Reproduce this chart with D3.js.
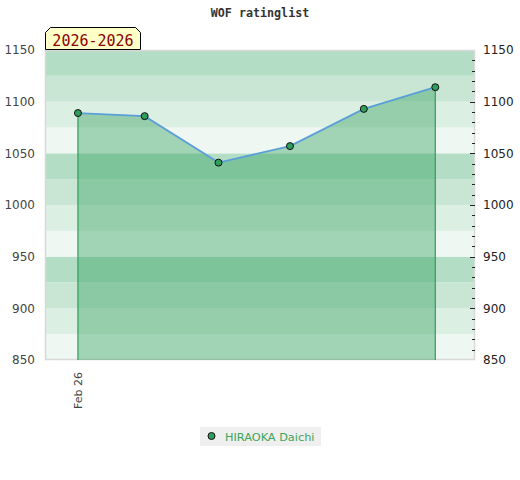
<!DOCTYPE html>
<html><head><meta charset="utf-8">
<script src="https://cdn.jsdelivr.net/npm/d3@7"></script>
<style>body{margin:0;background:#fff}svg{display:block}</style>
</head><body><div id="chart"></div>
<script>
const title = "WOF ratinglist";
const badge = "2026-2026";
const seriesName = "HIRAOKA Daichi";
const dates = ["2026-02-01","2026-03-01","2026-04-01","2026-05-01","2026-06-01","2026-07-01"];
const ratings = [1089, 1086, 1041, 1057, 1093, 1114];
const yTicks = [850, 900, 950, 1000, 1050, 1100, 1150];
const xTickLabels = ["Feb 26"];
const bandColors = ["#b3dec5", "#c9e6d5", "#dcefe3", "#eff7f2"];

const W = 520, H = 480;
const m = {l:45, r:45, t:50, b:120};
const parse = d3.timeParse("%Y-%m-%d");
const data = dates.map((d,i)=>({date:parse(d), v:ratings[i]}));

const svg = d3.select("#chart").append("svg").attr("width",W).attr("height",H);

const x = d3.scaleTime()
  .domain([new Date(2026,0,18,4), new Date(2026,6,17,16)])
  .range([m.l, W-m.r]);
const y = d3.scaleLinear().domain([850,1150]).range([H-m.b, m.t]);

const bands = d3.range(850, 1150, 25);
svg.append("g").selectAll("rect").data(bands).join("rect")
  .attr("x", m.l).attr("width", W-m.r-m.l)
  .attr("y", d=>y(d+25)).attr("height", d=>y(d)-y(d+25))
  .attr("fill", d=>bandColors[3 - ((d-850)/25)%4]);

svg.append("rect").attr("x", m.l+0.5).attr("y", m.t+0.5)
  .attr("width", W-m.r-m.l-1).attr("height", H-m.b-m.t-1)
  .attr("fill","none").attr("stroke","#d8d8d8").attr("stroke-width",1.5);

const area = d3.area().x(d=>x(d.date)).y0(y(850)).y1(d=>y(d.v));
svg.append("path").datum(data).attr("d", area)
  .attr("fill","rgba(46,158,91,0.4)");
svg.append("g").selectAll("line").data([data[0], data[data.length-1]]).join("line")
  .attr("x1", d=>x(d.date)).attr("x2", d=>x(d.date))
  .attr("y1", d=>y(d.v)).attr("y2", y(850))
  .attr("stroke","#2e9e5b").attr("stroke-width",1.2);
svg.append("path").datum(data)
  .attr("d", d3.line().x(d=>x(d.date)).y(d=>y(d.v)))
  .attr("fill","none").attr("stroke","#5b9fd8").attr("stroke-width",1.8);
svg.append("g").selectAll("circle").data(data).join("circle")
  .attr("cx", d=>x(d.date)).attr("cy", d=>y(d.v)).attr("r",3.5)
  .attr("fill","#2e9e5b").attr("stroke","#111").attr("stroke-width",1);

const left = svg.append("g").attr("transform",`translate(${m.l},0)`)
  .call(d3.axisLeft(y).tickValues(yTicks).tickSize(0).tickPadding(10).tickFormat(d3.format("d")));
left.select(".domain").remove();
left.selectAll("text").attr("font-family","DejaVu Sans, sans-serif").attr("font-size",12).attr("fill","#444");

const right = svg.append("g").attr("transform",`translate(${W-m.r},0)`)
  .call(d3.axisRight(y).tickValues(yTicks).tickSize(0).tickPadding(8).tickFormat(d3.format("d")));
right.select(".domain").remove();
right.selectAll("text").attr("font-family","DejaVu Sans, sans-serif").attr("font-size",12).attr("fill","#222");
const minor = d3.range(860, 1150, 10);
svg.append("g").selectAll("line").data(minor).join("line")
  .attr("x1", d=> (d%50===0) ? W-m.r-5 : W-m.r-3).attr("x2", W-m.r)
  .attr("y1", d=>Math.round(y(d))+0.5).attr("y2", d=>Math.round(y(d))+0.5)
  .attr("stroke","#222").attr("stroke-width",1);

const xa = svg.append("g").attr("transform",`translate(0,${H-m.b})`)
  .call(d3.axisBottom(x).tickValues([data[0].date]).tickSize(0).tickFormat((d,i)=>xTickLabels[i]));
xa.select(".domain").remove();
xa.selectAll("text")
  .attr("font-family","DejaVu Sans, sans-serif").attr("font-size",11).attr("fill","#444")
  .attr("transform","rotate(-90)").attr("text-anchor","end")
  .attr("x",-12).attr("y",0).attr("dy","0.35em");

svg.append("text").attr("x", W/2).attr("y", 17).attr("text-anchor","middle")
  .attr("font-family","DejaVu Sans Mono, monospace").attr("font-weight","bold")
  .attr("font-size",11.7).attr("fill","#333").text(title);

const bx=45.5, by=27.5, bw=95, bh=22, c=5;
svg.append("path")
  .attr("d", `M${bx},${by+bh} L${bx},${by+c} L${bx+c},${by} L${bx+bw-c},${by} L${bx+bw},${by+c} L${bx+bw},${by+bh} Z`)
  .attr("fill","#ffffc8").attr("stroke","#000").attr("stroke-width",1);
svg.append("text").attr("x", bx+bw/2).attr("y", by+18).attr("text-anchor","middle")
  .attr("font-family","DejaVu Sans Mono, monospace").attr("font-size",15)
  .attr("fill","#8b0000").text(badge);

const lg = svg.append("g");
lg.append("rect").attr("x",200).attr("y",427).attr("width",121).attr("height",19).attr("fill","#efefef");
lg.append("circle").attr("cx",211.5).attr("cy",436).attr("r",3.5)
  .attr("fill","#2e9e5b").attr("stroke","#111").attr("stroke-width",1);
lg.append("text").attr("x",225).attr("y",440.5)
  .attr("font-family","DejaVu Sans, sans-serif").attr("font-size",11.3)
  .attr("fill","#3aa65c").text(seriesName);
</script></body></html>
